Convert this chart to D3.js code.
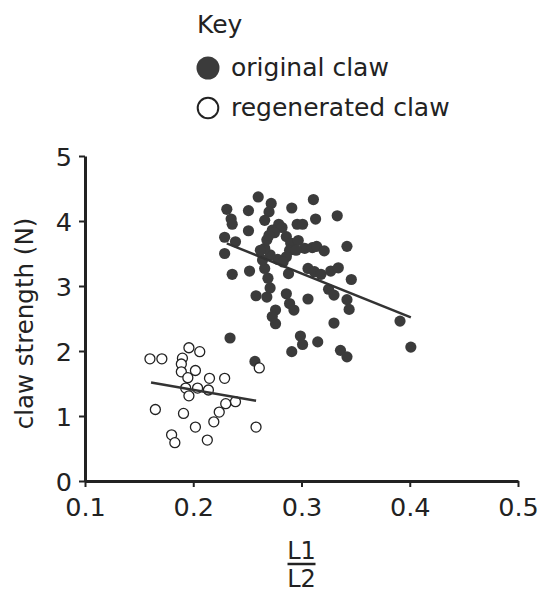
<!DOCTYPE html>
<html>
<head>
<meta charset="utf-8">
<script src="https://cdn.jsdelivr.net/npm/d3@7"></script>
<style>
  body { margin: 0; background: #fff; }
  text { font-family: "DejaVu Sans", sans-serif; fill: #222; }
</style>
</head>
<body>
<div id="chart"></div>
<script>
// original claw points (L1/L2, strength N)
const originalX = [0.260, 0.311, 0.272, 0.231, 0.251, 0.291, 0.270, 0.333, 0.235, 0.313,
  0.266, 0.236, 0.296, 0.301, 0.279, 0.251, 0.273, 0.282, 0.229, 0.239,
  0.275, 0.286, 0.290, 0.289, 0.286, 0.278, 0.271, 0.266, 0.268, 0.270,
  0.297, 0.303, 0.310, 0.314, 0.321, 0.342, 0.306, 0.312, 0.318, 0.327,
  0.334, 0.346, 0.325, 0.330, 0.342, 0.344, 0.306, 0.286, 0.289, 0.293,
  0.276, 0.276, 0.273, 0.258, 0.268, 0.271, 0.269, 0.266, 0.264, 0.262,
  0.252, 0.236, 0.229, 0.288, 0.330, 0.391, 0.401, 0.299, 0.301, 0.315,
  0.291, 0.336, 0.342, 0.234, 0.257, 0.283, 0.295];
const originalY = [4.37, 4.33, 4.27, 4.18, 4.16, 4.20, 4.14, 4.08, 4.03, 4.03,
  4.01, 3.95, 3.95, 3.95, 3.95, 3.85, 3.86, 3.90, 3.75, 3.68,
  3.82, 3.76, 3.66, 3.55, 3.45, 3.41, 3.48, 3.58, 3.71, 3.78,
  3.70, 3.58, 3.59, 3.61, 3.54, 3.61, 3.27, 3.22, 3.18, 3.23,
  3.28, 3.10, 2.95, 2.86, 2.79, 2.64, 2.80, 2.88, 2.73, 2.63,
  2.63, 2.42, 2.53, 2.85, 2.83, 2.97, 3.12, 3.27, 3.40, 3.55,
  3.23, 3.18, 3.50, 3.19, 2.43, 2.46, 2.06, 2.23, 2.10, 2.14,
  1.99, 2.01, 1.91, 2.20, 1.84, 3.37, 3.55];

// regenerated claw points
const regenX = [0.160, 0.171, 0.196, 0.206, 0.190, 0.189, 0.189, 0.202, 0.195, 0.215,
  0.229, 0.193, 0.204, 0.214, 0.196, 0.165, 0.191, 0.239, 0.230, 0.224,
  0.219, 0.202, 0.258, 0.180, 0.183, 0.213, 0.261];
const regenY = [1.88, 1.88, 2.05, 1.99, 1.89, 1.80, 1.68, 1.70, 1.59, 1.58,
  1.58, 1.43, 1.43, 1.40, 1.31, 1.10, 1.04, 1.22, 1.19, 1.06,
  0.91, 0.83, 0.83, 0.71, 0.59, 0.63, 1.74];

// fitted trend lines (end points)
const originalLineX = [0.231, 0.401];
const originalLineY = [3.655, 2.518];
const regenLineX = [0.161, 0.258];
const regenLineY = [1.515, 1.235];

const xTicks = [0.1, 0.2, 0.3, 0.4, 0.5];
const yTicks = [0, 1, 2, 3, 4, 5];
const legendLabels = ["original claw", "regenerated claw"];

const W = 547, H = 594;
const ink = "#3b3b3b";

const svg = d3.select("#chart").append("svg")
    .attr("width", W)
    .attr("height", H);

const x = d3.scaleLinear().domain([0.1, 0.5]).range([85, 518]);
const y = d3.scaleLinear().domain([0, 5]).range([481, 156]);

// axes
const xAxis = svg.append("g")
    .attr("transform", `translate(0,${y(0)})`)
    .call(d3.axisBottom(x).tickValues(xTicks).tickFormat(d3.format(".1f"))
      .tickSize(6).tickSizeOuter(0).tickPadding(14));
const yAxis = svg.append("g")
    .attr("transform", `translate(${x(0.1)},0)`)
    .call(d3.axisLeft(y).tickValues(yTicks).tickFormat(d3.format("d"))
      .tickSize(6).tickSizeOuter(0).tickPadding(7));

[xAxis, yAxis].forEach(g => {
  g.select(".domain").attr("stroke", "#222").attr("stroke-width", 3);
  g.selectAll(".tick line").attr("stroke", "#222").attr("stroke-width", 2);
  g.selectAll(".tick text")
      .style("font-family", "DejaVu Sans, sans-serif")
      .style("font-size", "25.5px")
      .attr("fill", "#222");
});
xAxis.selectAll(".tick text").attr("dy", "0.6em");
yAxis.selectAll(".tick text").attr("dy", "0.36em");

// axis titles
svg.append("text")
    .attr("transform", `translate(33,${(y(0) + y(5)) / 2 + 5}) rotate(-90)`)
    .attr("text-anchor", "middle")
    .style("font-size", "24.5px")
    .text("claw strength (N)");

// x title as a fraction L1 / L2
const fx = (x(0.1) + x(0.5)) / 2;
svg.append("text")
    .attr("x", fx).attr("y", 559)
    .attr("text-anchor", "middle")
    .style("font-size", "24px")
    .text("L1");
svg.append("line")
    .attr("x1", fx - 14).attr("x2", fx + 14)
    .attr("y1", 564).attr("y2", 564)
    .attr("stroke", "#222").attr("stroke-width", 2.5);
svg.append("text")
    .attr("x", fx).attr("y", 587)
    .attr("text-anchor", "middle")
    .style("font-size", "24px")
    .text("L2");

// points: original (filled) then regenerated (open) on top
const original = originalX.map((v, i) => ({ x: v, y: originalY[i] }));
const regen = regenX.map((v, i) => ({ x: v, y: regenY[i] }));

svg.append("g").selectAll("circle")
    .data(original)
    .enter().append("circle")
    .attr("cx", d => x(d.x))
    .attr("cy", d => y(d.y))
    .attr("r", 5.6)
    .attr("fill", ink);

svg.append("g").selectAll("circle")
    .data(regen)
    .enter().append("circle")
    .attr("cx", d => x(d.x))
    .attr("cy", d => y(d.y))
    .attr("r", 5)
    .attr("fill", "#fff")
    .attr("stroke", "#222")
    .attr("stroke-width", 1.3);

// trend lines
const line = d3.line().x(d => x(d[0])).y(d => y(d[1]));
[[originalLineX, originalLineY], [regenLineX, regenLineY]].forEach(([lx, ly]) => {
  svg.append("path")
      .attr("d", line(lx.map((v, i) => [v, ly[i]])))
      .attr("fill", "none")
      .attr("stroke", "#333")
      .attr("stroke-width", 2.5);
});

// key
svg.append("text")
    .attr("x", 197).attr("y", 33)
    .style("font-size", "25px")
    .text("Key");

const legend = svg.selectAll(".legend")
    .data(legendLabels)
    .enter().append("g")
    .attr("class", "legend")
    .attr("transform", (d, i) => `translate(208,${68 + i * 40})`);

legend.append("circle")
    .attr("r", (d, i) => i === 0 ? 11.5 : 10.3)
    .attr("fill", (d, i) => i === 0 ? ink : "#fff")
    .attr("stroke", (d, i) => i === 0 ? "none" : "#222")
    .attr("stroke-width", 2);

legend.append("text")
    .attr("x", 23)
    .attr("dy", "0.33em")
    .style("font-size", "25px")
    .text(d => d);
</script>
</body>
</html>
